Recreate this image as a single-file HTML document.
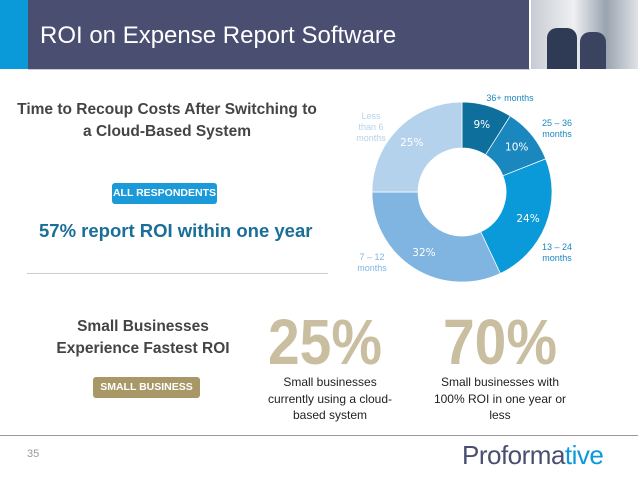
<!DOCTYPE html>
<html><head><meta charset="utf-8"><style>
body{margin:0;width:638px;height:479px;overflow:hidden;background:#fff;font-family:"Liberation Sans",sans-serif;position:relative}
div,span{position:absolute}
.c{text-align:center}
</style></head><body>
<div style="left:0;top:0;width:28px;height:69px;background:#0a9ad9"></div>
<div style="left:28px;top:0;width:501px;height:69px;background:#4a4f72"></div>
<div style="left:531px;top:0;width:107px;height:69px;background:linear-gradient(90deg,#c8ccd2,#eef0f2 40%,#9aa3b0 70%,#dfe3e8)"></div>
<div style="left:547px;top:28px;width:30px;height:41px;background:#2f3a55;border-radius:10px 10px 0 0"></div>
<div style="left:580px;top:32px;width:26px;height:37px;background:#3a4460;border-radius:10px 10px 0 0"></div>
<div style="left:28px;top:69px;width:502px;height:1px;background:#c5cbe0"></div>
<div style="left:40px;top:22px;color:#fff;font-size:24px;white-space:nowrap">ROI on Expense Report Software</div>

<div class="c" style="left:0;top:99px;width:334px;color:#444;font-weight:bold;font-size:15.5px;line-height:22px">Time to Recoup Costs After Switching to<br>a Cloud-Based System</div>
<div class="c" style="left:112px;top:183px;width:105px;height:21px;line-height:21px;background:#1a9ad9;border-radius:3px;color:#fff;font-weight:bold;font-size:10.5px">ALL RESPONDENTS</div>
<div style="left:39px;top:220px;color:#1a6e98;font-weight:bold;font-size:18.5px;white-space:nowrap">57% report ROI within one year</div>
<div style="left:27px;top:273px;width:301px;height:1px;background:#ccc"></div>

<svg width="638" height="479" style="position:absolute;left:0;top:0" id="chart"></svg>

<div class="c" style="left:18px;top:316px;width:250px;color:#444;font-weight:bold;font-size:15.5px;line-height:22px">Small Businesses<br>Experience Fastest ROI</div>
<div class="c" style="left:93px;top:377px;width:107px;height:21px;line-height:21px;background:#a89868;border-radius:3px;color:#fff;font-weight:bold;font-size:10.5px">SMALL BUSINESS</div>
<div class="c" style="left:255px;top:307px;width:140px;color:#c9bfa0;font-weight:bold;font-size:64px;line-height:70px;transform:scaleX(0.89)">25%</div>
<div class="c" style="left:430px;top:307px;width:140px;color:#c9bfa0;font-weight:bold;font-size:64px;line-height:70px;transform:scaleX(0.89)">70%</div>
<div class="c" style="left:255px;top:374px;width:150px;color:#222;font-size:12px;line-height:16.5px">Small businesses<br>currently using a cloud-<br>based system</div>
<div class="c" style="left:425px;top:374px;width:150px;color:#222;font-size:12px;line-height:16.5px">Small businesses with<br>100% ROI in one year or<br>less</div>

<div style="left:0;top:435px;width:638px;height:1px;background:#999"></div>
<div style="left:27px;top:448px;color:#999;font-size:11px">35</div>
<div style="left:462px;top:440px;font-size:26px;color:#4a4f72;letter-spacing:-0.5px;white-space:nowrap">Proforma<span style="position:static;color:#0a9ad9">tive</span></div>

<script>
const categories=["36+ months","25 – 36 months","13 – 24 months","7 – 12 months","Less than 6 months"];
const values=[9,10,24,32,25];
const colors=["#0e6f9c","#1a87bf","#0a9ad9","#7fb5e0","#b5d2ec"];
const svg=document.getElementById('chart');
const NS="http://www.w3.org/2000/svg";
const cx=462,cy=192,R=90,r=44;
const total=values.reduce((a,b)=>a+b,0);
function pt(rad,f){const a=f*2*Math.PI-Math.PI/2;return [cx+rad*Math.cos(a),cy+rad*Math.sin(a)];}
let acc=0;
values.forEach((v,i)=>{
  const f0=acc/total,f1=(acc+v)/total;acc+=v;
  const [x0,y0]=pt(R,f0),[x1,y1]=pt(R,f1),[x2,y2]=pt(r,f1),[x3,y3]=pt(r,f0);
  const lg=(f1-f0)>0.5?1:0;
  const p=document.createElementNS(NS,'path');
  p.setAttribute('d',`M${x0},${y0}A${R},${R} 0 ${lg} 1 ${x1},${y1}L${x2},${y2}A${r},${r} 0 ${lg} 0 ${x3},${y3}Z`);
  p.setAttribute('fill',colors[i]);p.setAttribute('stroke','#fff');p.setAttribute('stroke-width','0.7');
  
  
  svg.appendChild(p);
  const [tx,ty]=pt((R+r)/2+4,(f0+f1)/2);
  const t=document.createElementNS(NS,'text');
  t.setAttribute('x',tx);t.setAttribute('y',ty+4);t.setAttribute('text-anchor','middle');
  t.setAttribute('fill','#fff');t.setAttribute('font-size','10.5');t.setAttribute('font-family','DejaVu Sans, sans-serif');
  t.textContent=v+'%';
  
  
  svg.appendChild(t);
});
const labelText=[["36+ months"],["25 – 36","months"],["13 – 24","months"],["7 – 12","months"],["Less","than 6","months"]];
const labelPos=[[510,101],[557,126],[557,250],[372,260],[371,119]];
const labelColor=["#1a87bf","#1a87bf","#1a87bf","#7fb5e0","#b5d2ec"];
labelText.forEach((lines,i)=>{
  lines.forEach((s,j)=>{
    const t=document.createElementNS(NS,'text');
    t.setAttribute('x',labelPos[i][0]);t.setAttribute('y',labelPos[i][1]+j*11);
    t.setAttribute('text-anchor','middle');t.setAttribute('fill',labelColor[i]);
    t.setAttribute('font-size','9');t.setAttribute('font-family','Liberation Sans, sans-serif');
    t.textContent=s;
    
    
    svg.appendChild(t);
  });
});
</script>
</body></html>
